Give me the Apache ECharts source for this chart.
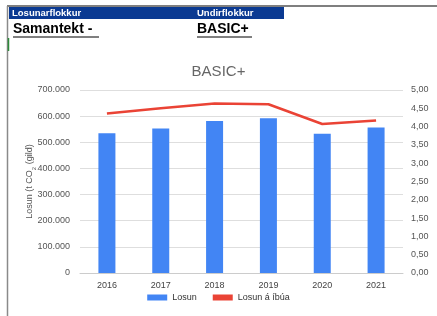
<!DOCTYPE html>
<html><head><meta charset="utf-8">
<script src="https://cdn.jsdelivr.net/npm/echarts@6/dist/echarts.min.js"></script>
<style>html,body{margin:0;padding:0;background:#fff}#c{width:437px;height:316px}</style>
</head><body><div id="c"></div>
<script>
const categories = ['2016','2017','2018','2019','2020','2021'];
const losun = [535000, 553000, 581000, 592000, 533000, 557000];
const losunAIbua = [4.36, 4.50, 4.63, 4.61, 4.07, 4.17];
const leftTicks = {min: 0, max: 700000, interval: 100000};
const rightTicks = {min: 0, max: 5, interval: 0.5};

const FONT = 'Liberation Sans, Arial, sans-serif';
const chart = echarts.init(document.getElementById('c'), null, {renderer: 'canvas'});
function fmtThousands(v){ return String(Math.round(v)).replace(/\B(?=(\d{3})+(?!\d))/g, '.'); }
chart.setOption({
  animation: false,
  backgroundColor: '#fff',
  textStyle: {fontFamily: FONT},
  title: {text: 'BASIC+', left: 'center', top: 59, textStyle: {fontFamily: FONT, fontSize: 15, fontWeight: 'normal', color: '#666'}},
  grid: {left: 80, right: 34, top: 90, bottom: 43, containLabel: false},
  legend: {bottom: 9, left: 'center', itemGap: 16, itemWidth: 20, itemHeight: 6,
    textStyle: {fontFamily: FONT, fontSize: 9, color: '#333'},
    data: [{name: 'Losun', icon: 'rect'}, {name: 'Losun á íbúa', icon: 'rect'}]},
  xAxis: {type: 'category', data: categories,
    axisLine: {lineStyle: {color: '#ccc'}}, axisTick: {show: false},
    axisLabel: {fontFamily: FONT, fontSize: 9, color: '#444', margin: 8}},
  yAxis: [
    {type: 'value', min: leftTicks.min, max: leftTicks.max, interval: leftTicks.interval,
     name: '{a|Losun (t CO}{s|2}{a| (gild)}', nameLocation: 'middle', nameRotate: 90, nameGap: 46,
     nameMoveOverlap: false,
     nameTextStyle: {rich: {a: {fontFamily: FONT, fontSize: 9, color: '#555'}, s: {fontFamily: FONT, fontSize: 6, color: '#555', verticalAlign: 'bottom', padding: [0,0,-3,0]}}},
     axisLine: {show: false}, axisTick: {show: false},
     splitLine: {lineStyle: {color: '#dedede'}},
     axisLabel: {fontFamily: FONT, fontSize: 9, color: '#555', margin: 10, formatter: fmtThousands}},
    {type: 'value', min: rightTicks.min, max: rightTicks.max, interval: rightTicks.interval,
     axisLine: {show: false}, axisTick: {show: false}, splitLine: {show: false},
     axisLabel: {fontFamily: FONT, fontSize: 9, color: '#555', margin: 8, formatter: v => v.toFixed(2).replace('.', ',')}}
  ],
  series: [
    {name: 'Losun', type: 'bar', data: losun, barWidth: 17, itemStyle: {color: '#4285F4'}},
    {name: 'Losun á íbúa', type: 'line', yAxisIndex: 1, data: losunAIbua, symbol: 'none',
     lineStyle: {color: '#EA4335', width: 2.5}, itemStyle: {color: '#EA4335'}}
  ],
  graphic: [
    {type: 'line', shape: {x1: 7, y1: 6, x2: 437, y2: 6}, style: {stroke: '#7f7f7f', lineWidth: 2}},
    {type: 'line', shape: {x1: 7.5, y1: 6, x2: 7.5, y2: 316}, style: {stroke: '#8a8a8a', lineWidth: 1.5}},
    {type: 'line', shape: {x1: 8.5, y1: 38, x2: 8.5, y2: 51}, style: {stroke: '#2e8b3a', lineWidth: 1.5}},
    {type: 'rect', shape: {x: 9, y: 7, width: 275, height: 12}, style: {fill: '#0B3A92'}},
    {type: 'text', x: 12, y: 8.5, style: {text: 'Losunarflokkur', fill: '#fff', font: 'bold 9.5px ' + FONT}},
    {type: 'text', x: 197, y: 8.5, style: {text: 'Undirflokkur', fill: '#fff', font: 'bold 9.5px ' + FONT}},
    {type: 'text', x: 13, y: 22, style: {text: 'Samantekt -', fill: '#000', font: 'bold 14px ' + FONT}},
    {type: 'line', shape: {x1: 13, y1: 37, x2: 99, y2: 37}, style: {stroke: '#000', lineWidth: 1}},
    {type: 'text', x: 197, y: 22, style: {text: 'BASIC+', fill: '#000', font: 'bold 14px ' + FONT}},
    {type: 'line', shape: {x1: 197, y1: 37, x2: 252, y2: 37}, style: {stroke: '#000', lineWidth: 1}}
  ]
});
</script></body></html>
